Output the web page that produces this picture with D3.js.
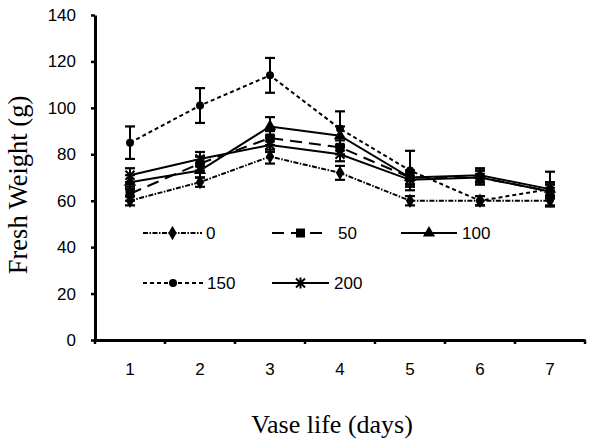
<!DOCTYPE html>
<html><head><meta charset="utf-8">
<script src="https://cdn.jsdelivr.net/npm/d3@7"></script>
<style>body{margin:0;background:#fff}svg{display:block}</style>
</head><body>
<svg id="c" width="591" height="445"></svg>
<script>
const days = [1, 2, 3, 4, 5, 6, 7];
const yTicks = [0, 20, 40, 60, 80, 100, 120, 140];
const seriesNames = ["0", "50", "100", "150", "200"];
const v0   = [60, 68, 79, 72, 60, 60, 60];
const e0   = [2, 2, 3, 3, 2, 2, 2];
const v50  = [63, 76, 87, 83, 70, 70, 64];
const e50  = [3, 3, 3, 3, 3, 3, 3];
const v100 = [68, 73, 92, 88, 70, 71, 65];
const e100 = [3, 3, 4, 4, 3, 3, 3];
const v150 = [85, 101, 114, 91, 73, 60, 65];
const e150 = [7, 7.5, 7.5, 7.5, 8.5, 2, 7.5];
const v200 = [71, 78, 84, 80, 69, 70, 64];
const e200 = [3, 3, 3, 3, 3, 3, 3];

const seriesVals = [v0, v50, v100, v150, v200];
const seriesErr = [e0, e50, e100, e150, e200];
const styles = [
  {dash: "5,1.5,1.5,1.5", sym: "diamond"},
  {dash: "12,7", sym: "square"},
  {dash: null, sym: "triangle"},
  {dash: "4,3", sym: "circle"},
  {dash: null, sym: "star"}
];

const svg = d3.select("#c");
const x = d3.scaleBand().domain(days).range([95, 585]);
const y = d3.scaleLinear().domain([0, 140]).range([340, 15]);
const cx = d => x(d) + x.bandwidth() / 2;

function marker(g, type, px, py) {
  if (type === "diamond") {
    g.append("path").attr("d", d3.symbol(d3.symbolDiamond, 60)())
      .attr("transform", `translate(${px},${py})`).attr("fill", "#000");
  } else if (type === "square") {
    g.append("rect").attr("x", px - 4.5).attr("y", py - 4.5).attr("width", 9).attr("height", 9).attr("fill", "#000");
  } else if (type === "triangle") {
    g.append("path").attr("d", d3.symbol(d3.symbolTriangle, 65)())
      .attr("transform", `translate(${px},${py})`).attr("fill", "#000");
  } else if (type === "circle") {
    g.append("circle").attr("cx", px).attr("cy", py).attr("r", 4).attr("fill", "#000");
  } else {
    const r = 4.5;
    g.append("path")
      .attr("d", `M${px - r},${py - r}L${px + r},${py + r}M${px - r},${py + r}L${px + r},${py - r}M${px},${py - r - 1}L${px},${py + r + 1}`)
      .attr("stroke", "#000").attr("stroke-width", 2).attr("fill", "none");
  }
}

// error bars
const eg = svg.append("g");
seriesVals.forEach((vals, si) => {
  vals.forEach((v, i) => {
    const e = seriesErr[si][i];
    const px = cx(days[i]);
    eg.append("line").attr("x1", px).attr("x2", px).attr("y1", y(v - e)).attr("y2", y(v + e))
      .attr("stroke", "#000").attr("stroke-width", 2);
    [v - e, v + e].forEach(t => eg.append("line").attr("x1", px - 5).attr("x2", px + 5)
      .attr("y1", y(t)).attr("y2", y(t)).attr("stroke", "#000").attr("stroke-width", 2.2));
  });
});

// lines
const line = d3.line().x((d, i) => cx(days[i])).y(d => y(d));
seriesVals.forEach((vals, si) => {
  svg.append("path").attr("d", line(vals)).attr("fill", "none").attr("stroke", "#000")
    .attr("stroke-width", 2).attr("stroke-dasharray", styles[si].dash);
});

// markers
const mg = svg.append("g");
seriesVals.forEach((vals, si) => {
  vals.forEach((v, i) => marker(mg, styles[si].sym, cx(days[i]), y(v)));
});

// axes
const yAxis = d3.axisLeft(y).tickValues(yTicks).tickSize(4).tickSizeOuter(0).tickPadding(15);
const ga = svg.append("g").attr("transform", "translate(95,0)").call(yAxis);
const xAxis = d3.axisBottom(x).tickSize(0).tickPadding(23);
const gx = svg.append("g").attr("transform", "translate(0,340)").call(xAxis);
// band boundary ticks on x axis
const bounds = days.map(d => x(d)).concat([x(days[days.length - 1]) + x.bandwidth()]);
gx.selectAll(".bt").data(bounds).enter().append("line").attr("class", "bt")
  .attr("x1", d => d).attr("x2", d => d).attr("y1", 0).attr("y2", 4)
  .attr("stroke", "#000").attr("stroke-width", 2.5);
[ga, gx].forEach(g => {
  g.select(".domain").attr("stroke", "#000").attr("stroke-width", 3);
  g.selectAll(".tick line").attr("stroke", "#000").attr("stroke-width", 2.5);
  g.selectAll(".tick text").attr("font-family", "Liberation Sans, Arial, sans-serif")
    .attr("font-size", 17).attr("fill", "#000");
});

// legend
const legendItems = [
  {si: 0, x1: 143, x2: 202, tx: 206, y: 233},
  {si: 1, x1: 272, x2: 329, tx: 338, y: 233},
  {si: 2, x1: 401, x2: 457, tx: 462, y: 233},
  {si: 3, x1: 143, x2: 203, tx: 207, y: 283},
  {si: 4, x1: 272, x2: 329, tx: 334, y: 283}
];
const lg = svg.append("g");
legendItems.forEach(it => {
  lg.append("line").attr("x1", it.x1).attr("x2", it.x2).attr("y1", it.y).attr("y2", it.y)
    .attr("stroke", "#000").attr("stroke-width", 2).attr("stroke-dasharray", styles[it.si].dash);
  marker(lg, styles[it.si].sym, (it.x1 + it.x2) / 2, it.y);
  lg.append("text").attr("x", it.tx).attr("y", it.y).attr("dy", "0.35em")
    .attr("font-family", "Liberation Sans, Arial, sans-serif").attr("font-size", 17)
    .text(seriesNames[it.si]);
});

// titles
svg.append("text").attr("x", 332).attr("y", 433).attr("text-anchor", "middle")
  .attr("font-family", "Liberation Serif, Times New Roman, serif").attr("font-size", 26)
  .text("Vase life (days)");
svg.append("text").attr("transform", "translate(27,185) rotate(-90)").attr("text-anchor", "middle")
  .attr("font-family", "Liberation Serif, Times New Roman, serif").attr("font-size", 26.5)
  .text("Fresh Weight (g)");
</script>
</body></html>
